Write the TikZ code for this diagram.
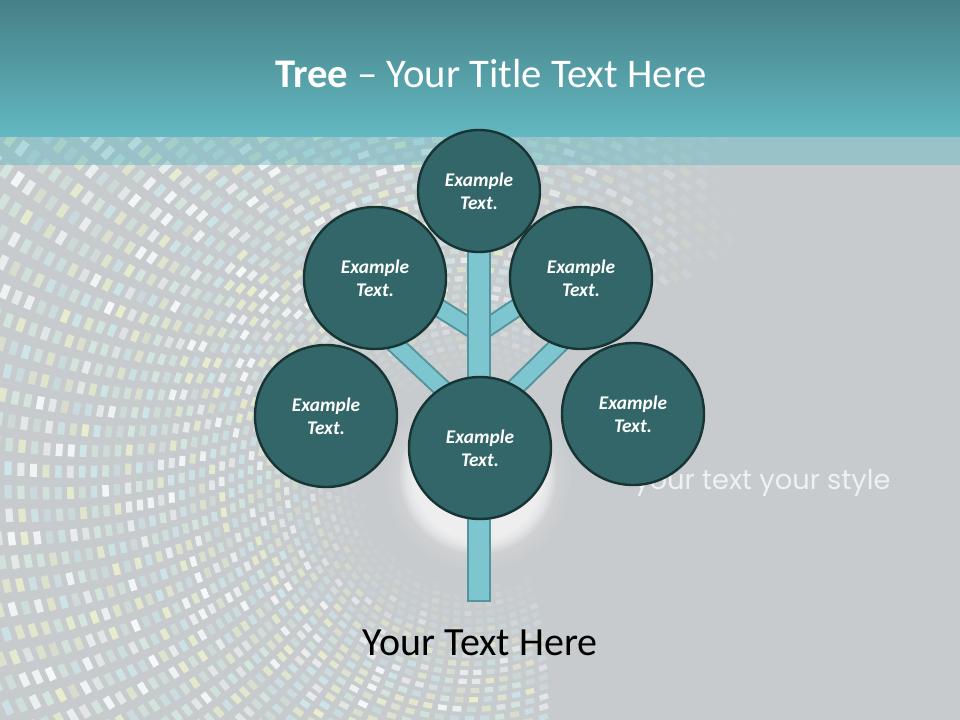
\documentclass[tikz,border=0pt]{standalone}
\usepackage{fontspec}
\setmainfont{Carlito}
\newfontfamily\stylefont{Poppins}
\definecolor{bggray}{RGB}{199,203,206}
\definecolor{headtop}{RGB}{70,128,134}
\definecolor{headbot}{RGB}{99,184,194}
\definecolor{circfill}{RGB}{51,102,104}
\definecolor{circline}{RGB}{24,52,52}
\definecolor{trunkfill}{RGB}{125,198,207}
\definecolor{trunkline}{RGB}{84,148,156}
\definecolor{pc0}{RGB}{246,249,249}
\definecolor{pc1}{RGB}{206,230,233}
\definecolor{pc2}{RGB}{232,238,205}
\definecolor{pc3}{RGB}{212,231,222}
\begin{document}
\begin{tikzpicture}[x=0.75pt,y=-0.75pt,
  bub/.style={circle, fill=circfill, draw=circline, line width=1.8pt,
    minimum size=106.5pt, inner sep=0pt, text=white, align=center,
    font=\bfseries\itshape\fontsize{14.5}{17.25}\selectfont},
  topbub/.style={bub, minimum size=91.5pt},
  branch/.style={draw=trunkline, line width=1.5pt, double=trunkfill, double distance=11.5pt},
  trunkbox/.style={draw=trunkline, fill=trunkfill, line width=1.5pt}]
\useasboundingbox (0,0) rectangle (960,720);
% background
\fill[bggray] (0,0) rectangle (960,720);
% tunnel pattern
\pgfmathsetseed{12}
\begin{scope}
\clip (0,137) rectangle (960,720);
\foreach \kk in {0,...,48}{
  \pgfmathsetmacro\rr{510*exp(0.015*\kk)-400}
  \pgfmathsetmacro\dtt{(6+0.038*\rr)/\rr*57.2958}
  \pgfmathtruncatemacro\nn{240/\dtt}
  \pgfmathsetmacro\hwa{1.9+0.0036*\rr}
  \pgfmathsetmacro\hwb{2.2+0.0097*\rr}
  \pgfmathsetmacro\fr{max(0,min(1,(\rr-100)/110))}
  \foreach \jj in {0,...,\nn}{
    \pgfmathsetmacro\ang{60+\kk*0.8+\jj*\dtt}
    \pgfmathsetmacro\ppx{470+\rr*cos(\ang)}
    \pgfmathsetmacro\ppy{480+\rr*sin(\ang)}
    \pgfmathtruncatemacro\okk{(\ppx>-15)*(\ppx<975)*(\ppy>125)*(\ppy<735)}
    \ifnum\okk=1
      \pgfmathsetmacro\opp{round(20*max(0,min(1,(740-\ppx)/250))*\fr*(0.5+0.5*rnd))/20}
      \pgfmathtruncatemacro\cidx{min(3,int(4*rnd))}
      \fill[pc\cidx, opacity=\opp, shift={(\ppx,\ppy)}, rotate=-\ang] (-\hwa,-\hwb) rectangle (\hwa,\hwb);
    \fi
  }
}
\end{scope}
% glow behind the lower circle
\foreach \gr in {92,88,...,80}{\fill[white, opacity=0.04] (478,478) circle (\gr);}
\foreach \gr in {78,76,...,64}{\fill[white, opacity=0.14] (478,476) circle (\gr);}
% header
\shade[top color=headtop, bottom color=headbot] (0,0) rectangle (960,137);
\fill[headbot, opacity=0.45] (0,137) rectangle (960,165);
% side text
\node[anchor=base west, inner sep=0pt, text=white, opacity=0.72,
  font=\stylefont\fontsize{20.5}{22}\selectfont] (style) at (634,489) {your text your style};
% junctions and branch ends
\coordinate (j1) at (479,333);
\coordinate (j2) at (479,423);
\coordinate (eul) at (420,296);
\coordinate (eur) at (540,292);
\coordinate (ell) at (380,330);
\coordinate (elr) at (580,324);
\draw[branch] (j1) -- (eul);
\draw[branch] (j1) -- (eur);
\draw[branch] (j2) -- (ell);
\draw[branch] (j2) -- (elr);
\draw[trunkbox] (468,250) rectangle (490,601);
% circles
\node[topbub] (top) at (479,191) {Example\\Text.};
\node[bub] (ul) at (375,278) {Example\\Text.};
\node[bub] (ur) at (581,278) {Example\\Text.};
\node[bub] (l) at (326,416) {Example\\Text.};
\node[bub] (r) at (633,414) {Example\\Text.};
\node[bub] (b) at (480,448) {Example\\Text.};
% titles
\node[anchor=base, inner sep=0pt, text=white, font=\fontsize{30.5}{36}\selectfont] (title) at (491,88) {\textbf{Tree} – Your Title Text Here};
\node[anchor=base, inner sep=0pt, text=black, font=\fontsize{30}{34}\selectfont] (sub) at (480,655) {Your Text Here};
\end{tikzpicture}
\end{document}
